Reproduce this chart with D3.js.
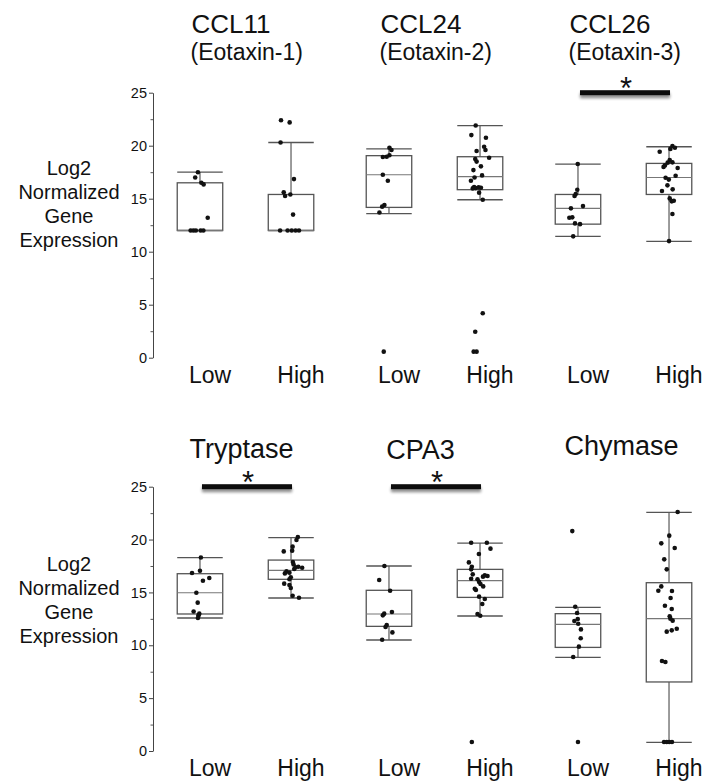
<!DOCTYPE html>
<html><head><meta charset="utf-8">
<script src="https://cdn.jsdelivr.net/npm/d3@7"></script>
<style>
html,body{margin:0;padding:0;background:#fff;}
text{font-family:"Liberation Sans",Arial,Helvetica,sans-serif;fill:#111;}
</style></head>
<body><svg id="c" width="710" height="783"></svg>
<script>
// ---------- data ----------
const panels = ["CCL11", "CCL24", "CCL26", "Tryptase", "CPA3", "Chymase"];
const subtitles = ["(Eotaxin-1)", "(Eotaxin-2)", "(Eotaxin-3)", "", "", ""];
const groups = ["Low", "High"];
const majorTicks = [0, 5, 10, 15, 20, 25];
const minorTicks = [2.5, 7.5, 12.5, 17.5, 22.5];
const yLabelLines = ["Log2", "Normalized", "Gene", "Expression"];
const significant = [false, false, true, true, true, false];

// box stats: [whisker low, q1, median, q3, whisker high]
const boxCCL11 = [[12, 12, 12, 16.5, 17.5], [12, 12, 12, 15.4, 20.3]];
const boxCCL24 = [[13.6, 14.18, 17.26, 19.06, 19.7], [14.9, 15.85, 17.08, 18.96, 21.9]];
const boxCCL26 = [[11.45, 12.6, 14.09, 15.4, 18.27], [10.97, 15.4, 17.0, 18.33, 19.9]];
const boxTryptase = [[12.58, 12.96, 14.97, 16.77, 18.3], [14.47, 16.24, 17.09, 18.06, 20.18]];
const boxCPA3 = [[10.5, 11.79, 12.96, 15.2, 17.5], [12.77, 14.53, 16.11, 17.18, 19.67]];
const boxChymase = [[8.86, 9.8, 11.98, 12.99, 13.59], [0.82, 6.53, 12.52, 15.92, 22.57]];

// individual samples
const ptsCCL11 = [
  [17.5, 17.0, 16.5, 16.35, 13.2, 12, 12, 12, 12, 12],
  [22.4, 22.2, 20.3, 16.85, 15.6, 15.25, 15.4, 13.5, 12, 12, 12, 12, 12]];
const ptsCCL24 = [
  [19.8, 19.6, 19.1, 18.96, 18.93, 17.26, 16.7, 14.4, 14.25, 13.7, 0.57],
  [21.9, 21.0, 20.75, 19.9, 19.6, 19.5, 18.87, 18.74, 18.5, 18.05, 17.7, 17.0, 17.2, 16.7, 16.1, 16.0, 16.07, 16.04, 15.97, 15.57, 14.9, 4.2, 2.45, 0.57, 0.57]];
const ptsCCL26 = [
  [18.27, 15.85, 15.44, 15.25, 14.09, 14.3, 13.2, 13.24, 12.67, 12.6, 11.45],
  [19.97, 19.8, 19.7, 19.43, 18.65, 18.43, 18.4, 18.0, 18.14, 17.9, 16.98, 16.8, 17.17, 16.26, 15.88, 15.72, 15.03, 14.75, 14.8, 13.55, 11.0]];
const ptsTryptase = [
  [18.3, 16.83, 17.05, 16.36, 16.1, 14.97, 14.03, 13.2, 12.99, 12.83, 12.58],
  [20.24, 19.96, 18.88, 19.33, 18.95, 17.88, 17.65, 17.37, 17.34, 17.43, 17.21, 16.99, 16.8, 16.87, 16.43, 16.24, 15.83, 15.7, 15.42, 14.69, 14.5]];
const ptsCPA3 = [
  [17.5, 16.17, 15.16, 12.99, 12.83, 13.15, 11.92, 11.73, 11.22, 10.53],
  [19.7, 19.7, 19.14, 18.63, 17.84, 17.43, 17.18, 16.71, 16.61, 16.55, 16.49, 16.3, 16.24, 15.98, 15.8, 15.57, 15.35, 15.23, 14.6, 14.38, 13.9, 12.96, 12.8, 0.85]];
const ptsChymase = [
  [20.8, 13.65, 13.05, 12.48, 12.3, 12.04, 11.5, 10.66, 9.87, 8.89, 0.85],
  [22.6, 20.37, 19.64, 19.2, 18.13, 17.18, 15.57, 15.16, 15.13, 14.47, 13.74, 13.43, 12.74, 12.52, 12.33, 11.29, 11.41, 11.57, 8.51, 8.42, 0.85, 0.85, 0.85, 0.85]];

// horizontal jitter of each sample (fraction of half box width), as seen in the figure
const jitCCL11 = [
  [-0.09, -0.21, 0.06, 0.16, 0.34, -0.41, -0.29, -0.18, 0.03, 0.15],
  [-0.44, -0.06, -0.46, 0.13, -0.32, -0.26, -0.03, 0.09, -0.48, -0.15, 0.03, 0.2, 0.35]];
const jitCCL24 = [
  [0.02, 0.11, 0.02, -0.10, -0.27, -0.27, -0.05, -0.2, -0.3, -0.42, -0.23],
  [-0.19, -0.38, 0.26, 0.18, 0.24, -0.15, 0.40, -0.21, -0.15, 0.04, -0.29, -0.24, 0.09, -0.40, -0.26, -0.19, -0.06, 0.04, -0.32, -0.04, 0.12, 0.12, -0.21, -0.28, -0.15]];
const jitCCL26 = [
  [-0.01, -0.03, -0.10, -0.15, -0.31, 0.22, -0.38, -0.25, -0.13, 0.09, -0.21],
  [0.15, 0.26, 0.06, -0.41, 0.03, 0.15, -0.06, -0.24, -0.18, 0.38, -0.15, -0.01, 0.29, -0.07, 0.16, -0.31, 0.03, 0.12, 0.21, 0.15, 0]];
const jitTryptase = [
  [0.04, -0.35, 0, 0.41, 0.13, -0.16, -0.10, -0.28, -0.03, -0.07, -0.09],
  [0.30, 0.24, -0.32, 0.07, 0.05, 0.08, 0.11, 0.2, 0.49, 0.32, 0.14, -0.2, -0.27, -0.07, -0.01, -0.07, -0.30, -0.07, -0.01, 0.07, 0.35]];
const jitCPA3 = [
  [-0.2, -0.43, 0.05, -0.21, -0.27, 0.13, -0.1, -0.15, 0.15, -0.3],
  [-0.39, 0.3, 0.46, -0.05, -0.49, -0.36, -0.39, -0.32, 0.21, 0.33, 0.13, -0.39, -0.11, -0.04, 0.02, 0.14, -0.23, -0.18, -0.04, 0.21, 0.1, -0.11, 0.01, -0.36]];
const jitChymase = [
  [-0.25, -0.12, -0.04, -0.01, -0.16, 0.01, 0.13, 0.12, 0.04, -0.21, 0],
  [0.38, 0.01, -0.34, 0.25, -0.21, -0.1, -0.34, -0.47, 0.13, 0.07, -0.18, 0.12, 0.03, 0.06, 0.16, -0.1, 0.12, 0.34, -0.31, -0.16, -0.22, -0.1, 0.01, 0.13]];

const boxes = [boxCCL11, boxCCL24, boxCCL26, boxTryptase, boxCPA3, boxChymase];
const points = [ptsCCL11, ptsCCL24, ptsCCL26, ptsTryptase, ptsCPA3, ptsChymase];
const jitters = [jitCCL11, jitCCL24, jitCCL26, jitTryptase, jitCPA3, jitChymase];

// ---------- layout ----------
const svg = d3.select("#c");
const rows = [
  {panels: [0, 1, 2], y0: 357.7, y1: 92.7, labelShift: 0},
  {panels: [3, 4, 5], y0: 751, y1: 486.7, labelShift: 396}
];
const axisX = 153;
const panelBand = d3.scaleBand().domain([0, 1, 2]).range([151, 718]).padding(0);
const inner = d3.scalePoint().domain(groups).range([0, panelBand.bandwidth()]).padding(0.538);
const boxW = 45.5;

// title placement per panel (offset from panel centre, baseline, size)
const titleCfg = [
  {dx: -54, y: 33, anchor: "start", size: 26}, {dx: -54, y: 33, anchor: "start", size: 26}, {dx: -54, y: 33, anchor: "start", size: 26},
  {dx: -4, y: 458, anchor: "middle", size: 27}, {dx: -14, y: 458.5, anchor: "middle", size: 27}, {dx: -2, y: 455, anchor: "middle", size: 27}
];

const defs = svg.append("defs");
const f = defs.append("filter").attr("id", "sh").attr("filterUnits", "userSpaceOnUse")
  .attr("x", 0).attr("y", 0).attr("width", 710).attr("height", 783);
f.append("feGaussianBlur").attr("in", "SourceAlpha").attr("stdDeviation", 1.6).attr("result", "b");
f.append("feOffset").attr("in", "b").attr("dy", 3).attr("result", "o");
f.append("feComponentTransfer").attr("in", "o").attr("result", "o2")
  .append("feFuncA").attr("type", "linear").attr("slope", 0.45);
const fm = f.append("feMerge");
fm.append("feMergeNode").attr("in", "o2");
fm.append("feMergeNode").attr("in", "SourceGraphic");

rows.forEach((row, ri) => {
  const y = d3.scaleLinear().domain([0, 25]).range([row.y0, row.y1]);
  const g = svg.append("g");

  // axis
  const ax = g.append("g").attr("transform", `translate(${axisX},0)`)
    .call(d3.axisLeft(y).tickValues(majorTicks).tickSize(4).tickSizeOuter(0).tickPadding(2).tickFormat(d3.format("d")));
  ax.selectAll("text").style("font-size", "14.5px").style("font-family", '"Liberation Sans",Arial,sans-serif').attr("fill", "#111");
  ax.selectAll("line").attr("stroke", "#444");
  ax.select(".domain").attr("stroke", "#444");
  const ax2 = g.append("g").attr("transform", `translate(${axisX},0)`)
    .call(d3.axisLeft(y).tickValues(minorTicks).tickSize(2.5).tickSizeOuter(0).tickFormat(""));
  ax2.select(".domain").remove();
  ax2.selectAll("line").attr("stroke", "#555");

  // y label
  const yl = g.append("text").attr("text-anchor", "middle").style("font-size", "20px");
  yLabelLines.forEach((t, i) => yl.append("tspan").attr("x", 69).attr("y", 175 + row.labelShift + i * 24).text(t));

  row.panels.forEach((pi, col) => {
    const px = panelBand(col);
    const pc = px + panelBand.bandwidth() / 2;
    const tc = titleCfg[pi];
    g.append("text").attr("x", pc + tc.dx).attr("y", tc.y).attr("text-anchor", tc.anchor)
      .style("font-size", tc.size + "px").text(panels[pi]);
    if (subtitles[pi]) {
      g.append("text").attr("x", pc + tc.dx - 1).attr("y", 60).attr("text-anchor", tc.anchor)
        .style("font-size", "23px").text(subtitles[pi]);
    }

    groups.forEach((gr, gi) => {
      const cx = px + inner(gr);
      const [wl, q1, md, q3, wh] = boxes[pi][gi];
      const bg = g.append("g");
      // whiskers
      bg.append("line").attr("x1", cx).attr("x2", cx).attr("y1", y(wh)).attr("y2", y(q3)).attr("stroke", "#666").attr("stroke-width", 1.3);
      bg.append("line").attr("x1", cx).attr("x2", cx).attr("y1", y(q1)).attr("y2", y(wl)).attr("stroke", "#666").attr("stroke-width", 1.3);
      [wl, wh].forEach(v => bg.append("line").attr("x1", cx - boxW / 2).attr("x2", cx + boxW / 2)
        .attr("y1", y(v)).attr("y2", y(v)).attr("stroke", "#555").attr("stroke-width", 1.3));
      // box
      bg.append("rect").attr("x", cx - boxW / 2).attr("y", y(q3)).attr("width", boxW).attr("height", y(q1) - y(q3))
        .attr("fill", "none").attr("stroke", "#555").attr("stroke-width", 1.3);
      bg.append("line").attr("x1", cx - boxW / 2).attr("x2", cx + boxW / 2).attr("y1", y(md)).attr("y2", y(md))
        .attr("stroke", "#777").attr("stroke-width", 1.2);
      // points
      bg.selectAll("circle").data(points[pi][gi]).join("circle")
        .attr("cx", (d, i) => cx + jitters[pi][gi][i] * boxW / 2)
        .attr("cy", d => y(d)).attr("r", 2.3).attr("fill", "#111");
      // group label
      g.append("text").attr("x", cx + 10).attr("y", 383 + row.labelShift * 0.9924).attr("text-anchor", "middle")
        .style("font-size", "23px").text(gr);
    });

    if (significant[pi]) {
      const xa = px + inner(groups[0]) + 2, xb = px + inner(groups[1]) + 1;
      g.append("rect").attr("x", xa).attr("y", y(25) - 2.5).attr("width", xb - xa).attr("height", 5)
        .attr("fill", "#111").attr("filter", "url(#sh)");
      g.append("text").attr("x", (xa + xb) / 2 + 1).attr("y", y(25) + 6).attr("text-anchor", "middle")
        .style("font-size", "31px").text("*");
    }
  });
});
</script></body></html>
